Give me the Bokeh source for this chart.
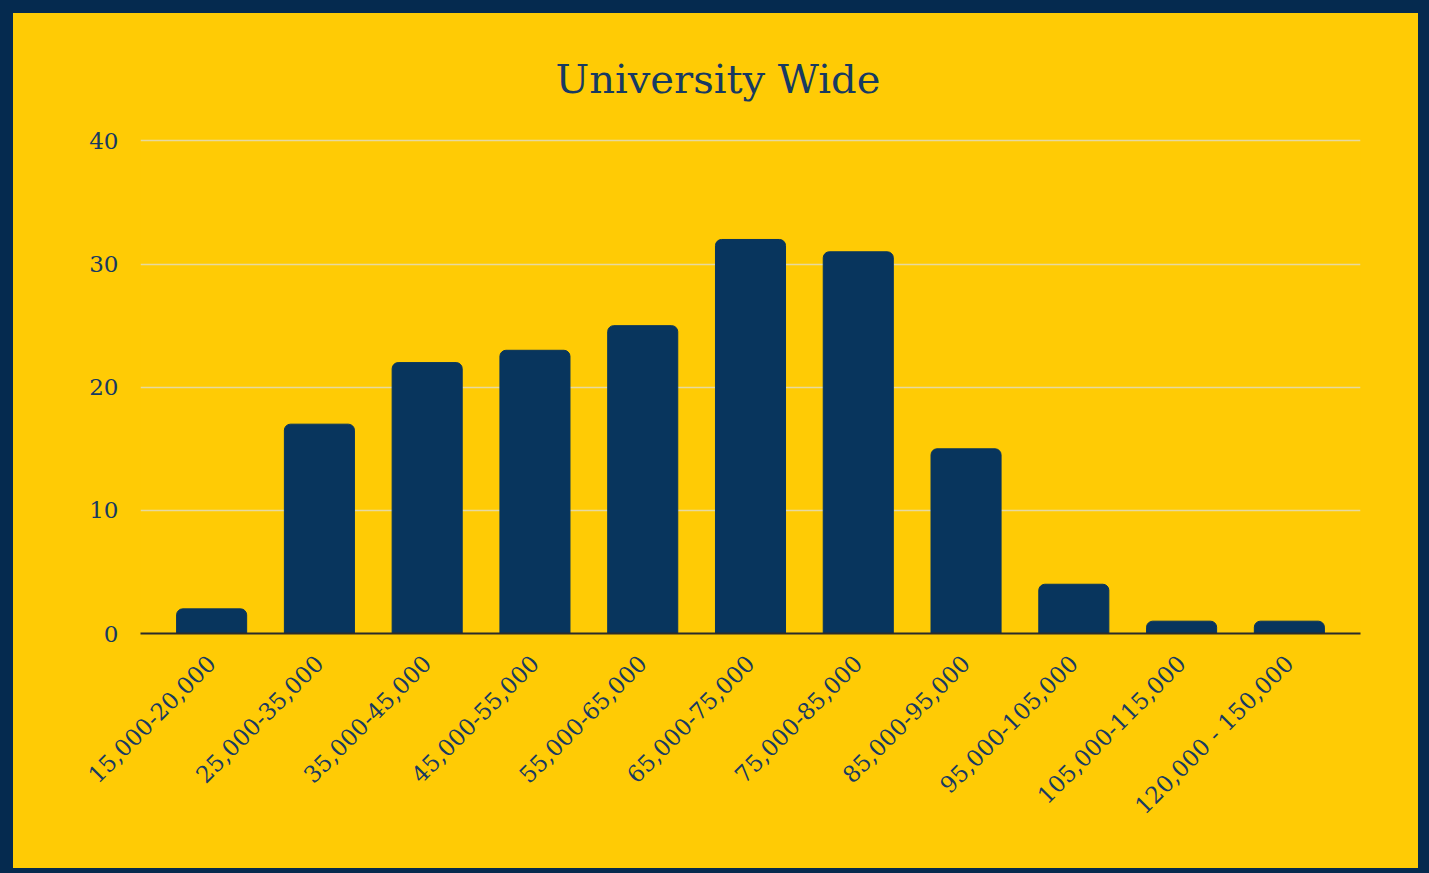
import math
from bokeh.plotting import figure
from bokeh.models import FactorRange, Range1d
from bokeh.embed import file_html
from bokeh.resources import INLINE

categories = ["15,000-20,000", "25,000-35,000", "35,000-45,000", "45,000-55,000",
              "55,000-65,000", "65,000-75,000", "75,000-85,000", "85,000-95,000",
              "95,000-105,000", "105,000-115,000", "120,000 - 150,000"]
counts = [2, 17, 22, 23, 25, 32, 31, 15, 4, 1, 1]
y_ticks = [0, 10, 20, 30, 40]
title_text = "University Wide"

YELLOW = "#FFCB05"
NAVY = "#052A4F"
BAR = "#08355D"
TEXT = "#173A62"
FONT = "DejaVu Serif"

W, H = 1429, 873

p = figure(width=W, height=H,
           x_range=FactorRange(factors=categories, range_padding=0.16, range_padding_units="absolute"),
           y_range=Range1d(0, 40.2),
           output_backend="svg", toolbar_location=None,
           min_border_left=127, min_border_right=82, min_border_top=125, min_border_bottom=253)
p.styles = {
    "border-style": "solid",
    "border-width": "13px 11px 5px 13px",
    "border-color": NAVY,
    "background-color": YELLOW,
}
p.background_fill_color = YELLOW
p.border_fill_color = YELLOW
p.outline_line_color = None

p.title.text = title_text
p.title.align = "left"
p.title.offset = 415
p.title.standoff = 74
p.title.text_font = FONT
p.title.text_font_size = "40px"
p.title.text_font_style = "normal"
p.title.text_color = TEXT

p.vbar(x=categories, top=counts, width=0.65, fill_color=BAR, line_color=BAR,
       border_radius=(6, 6, 0, 0))

p.xgrid.grid_line_color = None
p.ygrid.grid_line_color = "#E6D9A0"
p.ygrid.grid_line_width = 1.5
p.yaxis.ticker = y_ticks
p.yaxis.axis_line_color = None
p.yaxis.major_tick_line_color = None
p.yaxis.minor_tick_line_color = None
p.yaxis.major_label_standoff = 16
p.yaxis.major_label_text_font = FONT
p.yaxis.major_label_text_font_size = "23px"
p.yaxis.major_label_text_color = TEXT

p.xaxis.axis_line_color = "#2B2B2B"
p.xaxis.axis_line_width = 2
p.xaxis.major_tick_line_color = None
p.xaxis.minor_tick_line_color = None
p.xaxis.major_label_orientation = math.pi / 4
p.xaxis.major_label_standoff = 20
p.xaxis.major_label_text_font = FONT
p.xaxis.major_label_text_font_size = "23px"
p.xaxis.major_label_text_color = TEXT

open("out.html", "w").write(file_html(p, INLINE))
